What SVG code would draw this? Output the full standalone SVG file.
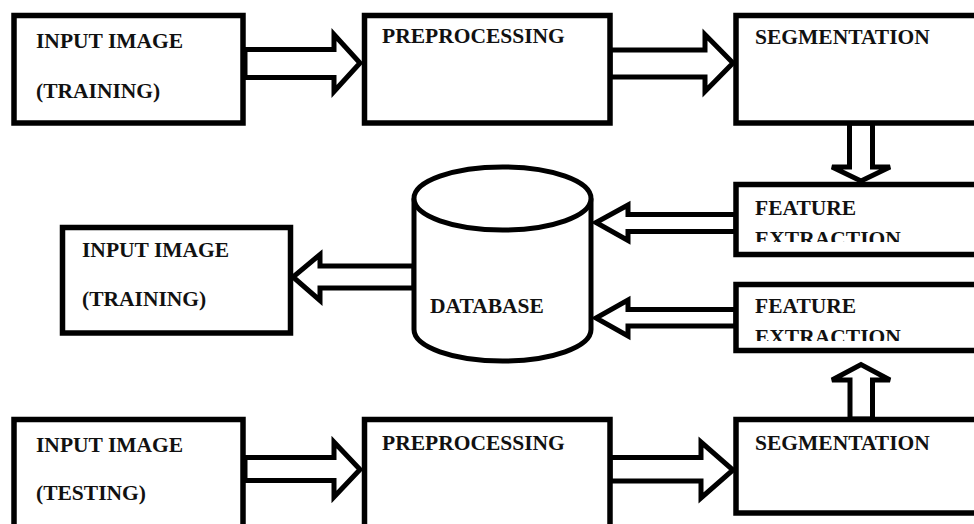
<svg xmlns="http://www.w3.org/2000/svg" width="974" height="524" viewBox="0 0 974 524">
<style>
.box{fill:#fff;stroke:#000;stroke-width:5.5}
.arr{fill:#fff;stroke:#000;stroke-width:5;stroke-linejoin:miter}
.db{fill:#fff;stroke:#000;stroke-width:5}
.t{font-family:"Liberation Serif","Times New Roman",serif;font-weight:bold;font-size:21.5px;fill:#111}
</style>
<defs>
<clipPath id="clipF1"><rect x="740" y="190" width="240" height="52"/></clipPath>
<clipPath id="clipF2"><rect x="740" y="290" width="240" height="51"/></clipPath>
</defs>
<rect width="974" height="524" fill="#fff"/>
<g id="connectors">
<polygon class="arr" points="245,49.5 334,49.5 334,34.5 360,63 334,91.5 334,77.5 245,77.5"/>
<polygon class="arr" points="610,50 705,50 705,34.5 733,63 705,91.5 705,77 610,77"/>
<polygon class="arr" points="849.5,123 849.5,167 832,167 861,181 890,167 872.5,167 872.5,123"/>
<polygon class="arr" points="850,419 850,380 832,380 861,364.5 890,380 872.5,380 872.5,419"/>
<polygon class="arr" points="736,214.5 628,214.5 628,205 596,222.5 628,240.5 628,231.5 736,231.5"/>
<polygon class="arr" points="736,309.5 628,309.5 628,300 596,318 628,336 628,326 736,326"/>
<polygon class="arr" points="414,266 320,266 320,254.5 293,277 320,300.5 320,288 414,288"/>
<polygon class="arr" points="245,457.5 334,457.5 334,442 360,469.5 334,497 334,480.5 245,480.5"/>
<polygon class="arr" points="610,457.5 701,457.5 701,442 733,470 701,498 701,481 610,481"/>
</g>
<g id="input-training-top">
<rect class="box" x="14" y="15.5" width="229" height="107.5"/>
<text class="t" x="36" y="48">INPUT IMAGE</text>
<text class="t" x="36" y="98">(TRAINING)</text>
</g>
<g id="preprocessing-top">
<rect class="box" x="364.5" y="15.5" width="245.5" height="107.5"/>
<text class="t" x="382" y="43">PREPROCESSING</text>
</g>
<g id="segmentation-top">
<rect class="box" x="736" y="15.5" width="260" height="107.5"/>
<text class="t" x="755" y="44">SEGMENTATION</text>
</g>
<g id="feature-extraction-1">
<rect class="box" x="736" y="184.5" width="260" height="70"/>
<text class="t" x="755" y="215">FEATURE</text>
<text class="t" x="755" y="246" clip-path="url(#clipF1)">EXTRACTION</text>
</g>
<g id="feature-extraction-2">
<rect class="box" x="736" y="284.5" width="260" height="66"/>
<text class="t" x="755" y="313">FEATURE</text>
<text class="t" x="755" y="344" clip-path="url(#clipF2)">EXTRACTION</text>
</g>
<g id="database">
<path class="db" d="M414,198.5 V329.5 A88.5,31.5 0 0 0 591,329.5 V198.5"/>
<ellipse class="db" cx="502.5" cy="198.5" rx="88.5" ry="31.5"/>
<text class="t" x="430" y="313">DATABASE</text>
</g>
<g id="input-training-left">
<rect class="box" x="62.5" y="227.5" width="228" height="105.5"/>
<text class="t" x="82" y="257">INPUT IMAGE</text>
<text class="t" x="82" y="306">(TRAINING)</text>
</g>
<g id="input-testing">
<rect class="box" x="14" y="419.5" width="229" height="130"/>
<text class="t" x="36" y="452">INPUT IMAGE</text>
<text class="t" x="36" y="500">(TESTING)</text>
</g>
<g id="preprocessing-bottom">
<rect class="box" x="364.5" y="419.5" width="245.5" height="130"/>
<text class="t" x="382" y="450">PREPROCESSING</text>
</g>
<g id="segmentation-bottom">
<rect class="box" x="736" y="419.5" width="260" height="93.5"/>
<text class="t" x="755" y="450">SEGMENTATION</text>
</g>
</svg>
